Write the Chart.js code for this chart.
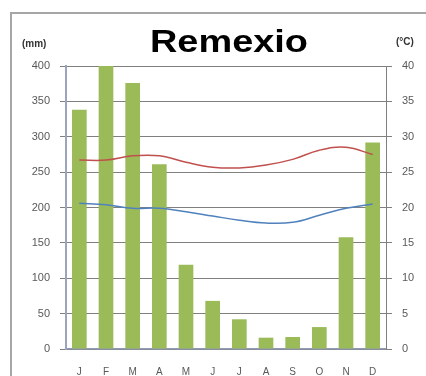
<!DOCTYPE html>
<html lang="es">
<head>
  <meta charset="UTF-8">
  <title>Remexio</title>
  <script src="https://cdn.jsdelivr.net/npm/chart.js"></script>
  <style>
    html, body { margin: 0; padding: 0; background: #fff; }
    #wrap { width: 426px; height: 376px; }
  </style>
</head>
<body>
  <div id="wrap"><canvas id="climo" width="426" height="376"></canvas></div>

  <script>
    // monthly values
    const months = ['J', 'F', 'M', 'A', 'M', 'J', 'J', 'A', 'S', 'O', 'N', 'D'];
    const rainMm = [338, 400, 376, 261, 119, 68, 42, 16, 17, 31, 158, 292];
    const tempMax = [26.7, 26.7, 27.3, 27.3, 26.4, 25.7, 25.6, 26.0, 26.8, 28.1, 28.5, 27.5];
    const tempMin = [20.6, 20.4, 19.9, 19.9, 19.4, 18.8, 18.2, 17.8, 17.9, 18.9, 19.9, 20.5];
    const mmTicks = [0, 50, 100, 150, 200, 250, 300, 350, 400];
    const degTicks = [0, 5, 10, 15, 20, 25, 30, 35, 40];

    const font = '"Liberation Sans", Arial, sans-serif';

    // frame, title and unit labels
    const decor = {
      id: 'decor',
      beforeDraw(chart) {
        const ctx = chart.ctx;
        ctx.save();
        ctx.fillStyle = '#fff';
        ctx.fillRect(0, 0, chart.width, chart.height);
        ctx.strokeStyle = '#a6a6a6';
        ctx.lineWidth = 2;
        ctx.beginPath();
        ctx.moveTo(11, chart.height);
        ctx.lineTo(11, 13);
        ctx.lineTo(chart.width, 13);
        ctx.stroke();
        ctx.restore();
      },
      afterDraw(chart) {
        const ctx = chart.ctx;
        ctx.save();
        ctx.fillStyle = '#000';
        ctx.textAlign = 'center';
        ctx.textBaseline = 'alphabetic';
        ctx.font = 'bold 31px ' + font;
        // title is drawn a bit wider than the font in the original
        const w = ctx.measureText('Remexio').width;
        ctx.translate(229, 52);
        ctx.scale(158 / w, 1);
        ctx.fillText('Remexio', 0, 0);
        ctx.restore();

        ctx.save();
        ctx.textBaseline = 'middle';
        ctx.font = 'bold 10px ' + font;
        ctx.fillStyle = '#333';
        ctx.textAlign = 'left';
        ctx.fillText('(mm)', 22, 44);
        ctx.fillText('(°C)', 396, 42);
        ctx.restore();
      }
    };

    new Chart(document.getElementById('climo'), {
      data: {
        labels: months,
        datasets: [
          {
            type: 'line',
            label: 'Tmax',
            data: tempMax,
            yAxisID: 'yT',
            borderColor: '#c0504d',
            borderWidth: 1.5,
            pointRadius: 0,
            tension: 0.4,
            order: 1
          },
          {
            type: 'line',
            label: 'Tmin',
            data: tempMin,
            yAxisID: 'yT',
            borderColor: '#4f81bd',
            borderWidth: 1.5,
            pointRadius: 0,
            tension: 0.4,
            order: 2
          },
          {
            type: 'bar',
            label: 'Precipitación',
            data: rainMm,
            yAxisID: 'yP',
            backgroundColor: '#9bbb59',
            barPercentage: 0.55,
            categoryPercentage: 1,
            order: 3
          }
        ]
      },
      options: {
        responsive: false,
        animation: false,
        layout: { padding: { top: 66, left: 0, right: 0, bottom: 0 } },
        plugins: {
          legend: { display: false },
          tooltip: { enabled: false }
        },
        scales: {
          x: {
            grid: { display: false },
            border: { display: true, color: '#8f9bb5', width: 1.5 },
            ticks: { color: '#595959', font: { family: font, size: 10 }, padding: 9 },
            afterFit(s) { s.height = 27; }
          },
          yP: {
            position: 'left',
            min: 0,
            max: 400,
            afterBuildTicks(s) { s.ticks = mmTicks.map(v => ({ value: v })); },
            grid: { color: '#808080', lineWidth: 1, tickLength: 6 },
            border: { display: true, color: '#9aa5bd', width: 2 },
            ticks: { color: '#595959', font: { family: font, size: 11 }, padding: 10 },
            afterFit(s) { s.width = 66; }
          },
          yT: {
            position: 'right',
            min: 0,
            max: 40,
            afterBuildTicks(s) { s.ticks = degTicks.map(v => ({ value: v })); },
            grid: { drawOnChartArea: false, color: '#808080', tickLength: 6 },
            border: { display: true, color: '#808080', width: 1 },
            ticks: { color: '#595959', font: { family: font, size: 11 }, padding: 10 },
            afterFit(s) { s.width = 40; }
          }
        }
      },
      plugins: [decor]
    });
  </script>
</body>
</html>
